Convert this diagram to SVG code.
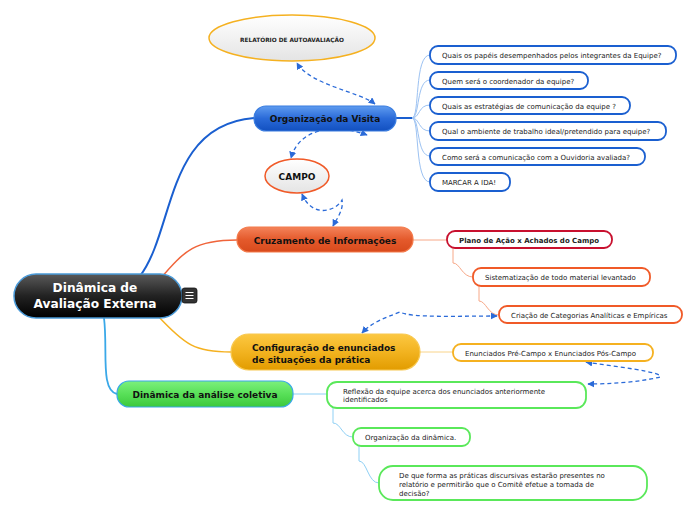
<svg xmlns="http://www.w3.org/2000/svg" width="697" height="520" viewBox="0 0 697 520">
<defs>
<linearGradient id="gRoot" x1="0" y1="0" x2="0" y2="1"><stop offset="0" stop-color="#5a5a5a"/><stop offset="0.5" stop-color="#222"/><stop offset="1" stop-color="#000"/></linearGradient>
<linearGradient id="gBlue" x1="0" y1="0" x2="0" y2="1"><stop offset="0" stop-color="#5f9cf0"/><stop offset="0.5" stop-color="#2a6ad8"/><stop offset="1" stop-color="#1250c0"/></linearGradient>
<linearGradient id="gRed" x1="0" y1="0" x2="0" y2="1"><stop offset="0" stop-color="#f4835a"/><stop offset="0.5" stop-color="#e45a2c"/><stop offset="1" stop-color="#d84a1c"/></linearGradient>
<linearGradient id="gYel" x1="0" y1="0" x2="0" y2="1"><stop offset="0" stop-color="#fcc842"/><stop offset="0.5" stop-color="#f2b320"/><stop offset="1" stop-color="#e29c00"/></linearGradient>
<linearGradient id="gGrn" x1="0" y1="0" x2="0" y2="1"><stop offset="0" stop-color="#7cf07c"/><stop offset="0.5" stop-color="#58e058"/><stop offset="1" stop-color="#3cc83c"/></linearGradient>
<linearGradient id="gEll" x1="0" y1="0" x2="0" y2="1"><stop offset="0" stop-color="#ffffff"/><stop offset="1" stop-color="#e4e4e4"/></linearGradient>
<marker id="arr" viewBox="0 0 10 10" refX="9" refY="5" markerWidth="7" markerHeight="7" orient="auto-start-reverse" markerUnits="userSpaceOnUse"><path d="M0,0 L10,5 L0,10 z" fill="#2a6ad8"/></marker>
</defs>
<style>
text{font-family:"DejaVu Sans","Liberation Sans",sans-serif;}
.b{font-weight:bold;}
.t{font-size:7px;fill:#222;}
.m{font-size:9px;font-weight:bold;fill:#111;}
.cb{fill:#fff;stroke:#1a5fd0;stroke-width:1.8;}
.cr{fill:#fff;stroke:#f05a28;stroke-width:1.8;}
.cg{fill:#fff;stroke:#5ae85a;stroke-width:1.8;}
.lb{fill:none;stroke:#9cc2f2;stroke-width:1;}
.lr{fill:none;stroke:#f7a888;stroke-width:1;}
.lg{fill:none;stroke:#8fd0f5;stroke-width:1;}
.rel{fill:none;stroke:#2a6ad8;stroke-width:1.3;stroke-dasharray:4,3;marker-start:url(#arr);marker-end:url(#arr);}
</style>

<g id="connectors">
<path d="M140,276 C175,230 165,125 254,118" fill="none" stroke="#1a5fd0" stroke-width="2"/>
<path d="M160,279 C185,250 195,240 237,240" fill="none" stroke="#f0643a" stroke-width="1.5"/>
<path d="M158,316 C185,345 195,352 231,352" fill="none" stroke="#f5b120" stroke-width="1.5"/>
<path d="M104,318 C108,350 100,390 117,394" fill="none" stroke="#3aa8e8" stroke-width="1.8"/>
<path d="M396,118 L412,118" fill="none" stroke="#1a5fd0" stroke-width="2"/>
<path class="lb" d="M412,118 C420,118 414,55 430,55"/>
<path class="lb" d="M412,118 C420,118 416,80 430,80"/>
<path class="lb" d="M412,118 C420,118 418,105 430,105"/>
<path class="lb" d="M412,118 C420,118 418,131 430,131"/>
<path class="lb" d="M412,118 C420,118 416,156 430,156"/>
<path class="lb" d="M412,118 C420,118 414,182 430,182"/>
<path class="lr" d="M413,240 L447,240"/>
<path class="lr" d="M453,248 L453,263 C460,263 462,277 473,277"/>
<path class="lr" d="M479,286 L479,301 C486,301 488,315 499,315"/>
<path d="M420,352 L453,352" fill="none" stroke="#f9d48a" stroke-width="1"/>
<path class="lg" d="M293,394 L327,394"/>
<path class="lg" d="M333,408 L333,423 C341,423 342,437 353,437"/>
<path class="lg" d="M359,446 L359,461 C367,461 368,483 379,483"/>
<path class="rel" d="M375,104 C360,92 310,85 297,63"/>
<path class="rel" d="M367,135 C340,125 300,125 291,158"/>
<path class="rel" d="M302,194 C312,218 335,212 342,200 C344,210 336,220 333,226"/>
<path class="rel" d="M497,316 C460,316 410,318 400,312 C385,318 372,322 362,333"/>
<path class="rel" d="M586,362 C610,366 665,372 660,377 C640,382 610,384 588,384"/>
</g>

<g id="root">
<rect x="14" y="274" width="168" height="44" rx="22" fill="url(#gRoot)" stroke="#4a9ad8" stroke-width="1.5"/>
<text x="95" y="292" text-anchor="middle" class="b" font-size="12.2" fill="#fff">Dinâmica de</text>
<text x="95" y="308" text-anchor="middle" class="b" font-size="12.2" fill="#fff">Avaliação Externa</text>
</g>
<g id="menu">
<rect x="182" y="288" width="15" height="15" rx="2.5" fill="#333" stroke="#111" stroke-width="0.8"/>
<path d="M185.5,292.5 H193.5 M185.5,295.5 H193.5 M185.5,298.5 H193.5" stroke="#fff" stroke-width="1.2"/>
</g>

<g id="n-relatorio">
<ellipse cx="292" cy="38" rx="83" ry="23" fill="url(#gEll)" stroke="#f5b120" stroke-width="1.5"/>
<text x="292" y="42" text-anchor="middle" class="b" font-size="5.8" fill="#222">RELATÓRIO DE AUTOAVALIAÇÃO</text>
</g>

<g id="n-organizacao">
<rect x="254" y="106" width="142" height="25" rx="12" fill="url(#gBlue)" stroke="#3a7de0" stroke-width="1.2"/>
<text x="325" y="122" text-anchor="middle" class="m">Organização da Visita</text>
</g>

<g id="n-campo">
<ellipse cx="297" cy="176" rx="32" ry="17" fill="url(#gEll)" stroke="#f05a28" stroke-width="1.5"/>
<text x="297" y="179.5" text-anchor="middle" class="m">CAMPO</text>
</g>

<g id="n-q1"><rect class="cb" x="430" y="46" width="246" height="18" rx="8"/><text class="t" x="442" y="58">Quais os papéis desempenhados pelos integrantes da Equipe?</text></g>
<g id="n-q2"><rect class="cb" x="430" y="72" width="158" height="17" rx="8"/><text class="t" x="442" y="83.5">Quem será o coordenador da equipe?</text></g>
<g id="n-q3"><rect class="cb" x="430" y="97" width="200" height="17" rx="8"/><text class="t" x="442" y="108.5">Quais as estratégias de comunicação da equipe ?</text></g>
<g id="n-q4"><rect class="cb" x="430" y="122" width="236" height="18" rx="8"/><text class="t" x="442" y="134">Qual o ambiente de trabalho ideal/pretendido para equipe?</text></g>
<g id="n-q5"><rect class="cb" x="430" y="148" width="215" height="17" rx="8"/><text class="t" x="442" y="159.5">Como será a comunicação com a Ouvidoria avaliada?</text></g>
<g id="n-q6"><rect class="cb" x="430" y="173" width="80" height="18" rx="8"/><text class="t" x="442" y="185">MARCAR A IDA!</text></g>

<g id="n-cruzamento">
<rect x="237" y="227" width="176" height="25" rx="12" fill="url(#gRed)" stroke="#f47a4a" stroke-width="1.2"/>
<text x="325" y="243.5" text-anchor="middle" class="m">Cruzamento de Informações</text>
</g>
<g id="n-plano"><rect x="447" y="231" width="165" height="17" rx="8" fill="#fff" stroke="#c8102e" stroke-width="1.8"/><text class="t b" x="459" y="242.5" fill="#111">Plano de Ação x Achados do Campo</text></g>
<g id="n-sistem"><rect class="cr" x="473" y="268" width="177" height="18" rx="8"/><text class="t" x="485" y="280">Sistematização de todo material levantado</text></g>
<g id="n-criacao"><rect class="cr" x="499" y="306" width="183" height="17" rx="8"/><text class="t" x="511" y="318">Criação de Categorias Analíticas e Empíricas</text></g>

<g id="n-configuracao">
<rect x="231" y="334" width="189" height="36" rx="18" fill="url(#gYel)" stroke="#f8c850" stroke-width="1.2"/>
<text x="252" y="350.5" class="m">Configuração de enunciados</text>
<text x="252" y="362.5" class="m">de situações da prática</text>
</g>
<g id="n-enunciados"><rect x="453" y="344" width="200" height="17" rx="8" fill="#fff" stroke="#f5b120" stroke-width="1.8"/><text class="t" x="465" y="356">Enunciados Pré-Campo x Enunciados Pós-Campo</text></g>

<g id="n-dinamica">
<rect x="117" y="381" width="176" height="26" rx="12" fill="url(#gGrn)" stroke="#3aa8e8" stroke-width="1.2"/>
<text x="205" y="397.5" text-anchor="middle" class="m">Dinâmica da análise coletiva</text>
</g>
<g id="n-reflexao"><rect class="cg" x="327" y="382" width="259" height="26" rx="10"/><text class="t" x="343" y="393.5">Reflexão da equipe acerca dos enunciados anteriormente</text><text class="t" x="343" y="402">identificados</text></g>
<g id="n-organiz"><rect class="cg" x="353" y="428" width="117" height="18" rx="8"/><text class="t" x="365" y="440">Organização da dinâmica.</text></g>
<g id="n-deque"><rect class="cg" x="379" y="466" width="268" height="34" rx="14"/><text class="t" x="399" y="477.5">De que forma as práticas discursivas estarão presentes no</text><text class="t" x="399" y="486.5">relatório e permitirão que o Comitê efetue a tomada de</text><text class="t" x="399" y="495.5">decisão?</text></g>
</svg>
